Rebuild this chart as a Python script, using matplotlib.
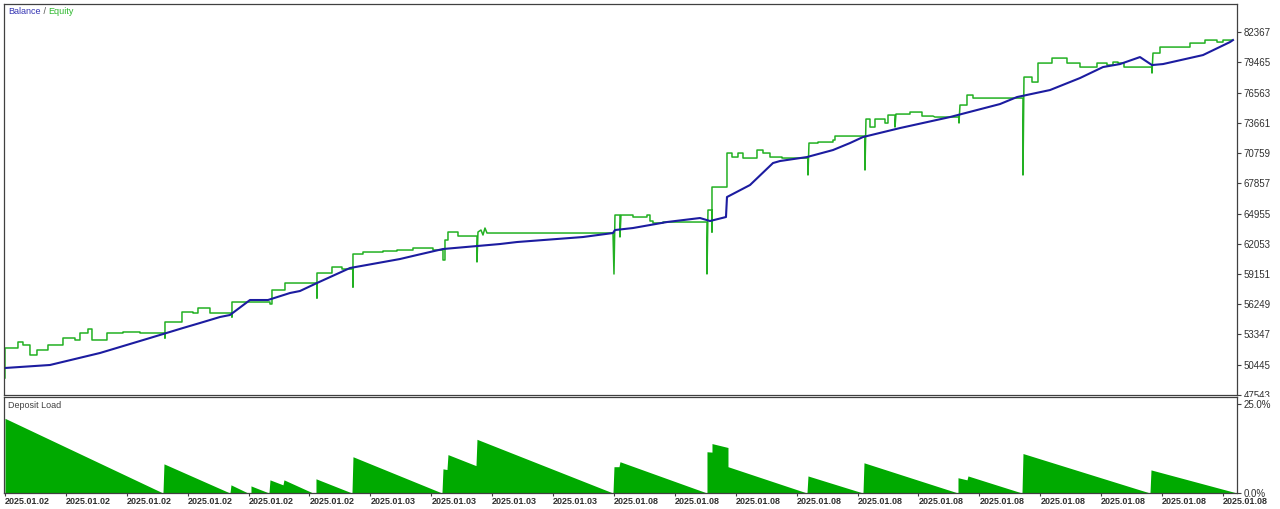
"""
Strategy tester report: balance / equity curve with deposit load panel.
"""

import numpy as np
import matplotlib
matplotlib.use("Agg")
import matplotlib.pyplot as plt
from matplotlib.transforms import Bbox, TransformedBbox

# balance curve (step index, account value)
bal_step = [0, 45, 95, 145, 178, 195, 215, 225, 245, 263, 285, 295, 312, 345, 395,
            412, 438, 495, 512, 578, 608, 610, 628, 662, 695, 705, 721, 722, 745,
            768, 775, 802, 828, 845, 858, 895, 945, 995, 1012, 1045, 1075, 1098,
            1115, 1135, 1147, 1158, 1198, 1225, 1228]
bal_val = [50133, 50421, 51572, 53011, 53970, 54450, 55026, 55217, 56656, 56656,
           57328, 57520, 58287, 59726, 60589, 60973, 61549, 62028, 62220, 62700,
           63084, 63371, 63563, 64139, 64523, 64235, 64619, 66537, 67688, 69799,
           69991, 70374, 71046, 71717, 72293, 73156, 74212, 75459, 76130, 76802,
           77954, 79008, 79296, 79967, 79200, 79296, 80159, 81407, 81598]

# equity curve (floating P/L steps and drawdown spikes)
eq_step = [0, 0, 13, 13, 18, 18, 25, 25, 32, 32, 43, 43, 58, 58, 70, 70, 75, 75, 83,
           83, 87, 87, 102, 102, 118, 118, 135, 135, 160, 160, 160, 177, 177, 188,
           188, 193, 193, 205, 205, 227, 227, 227, 265, 265, 267, 267, 280, 280,
           312, 312, 312, 327, 327, 337, 337, 348, 348, 348, 358, 358, 378, 378,
           392, 392, 408, 408, 428, 428, 438, 438, 440, 440, 443, 443, 453, 453,
           472, 472, 473, 476, 478, 480, 482, 608, 609, 610, 615, 615, 616, 628,
           628, 642, 642, 645, 645, 648, 648, 658, 658, 702, 702, 703, 707, 707,
           707, 722, 722, 727, 727, 733, 733, 738, 738, 752, 752, 758, 758, 765,
           765, 777, 777, 803, 803, 804, 813, 813, 828, 828, 830, 830, 860, 860,
           861, 865, 865, 870, 870, 880, 880, 883, 883, 890, 890, 891, 905, 905,
           917, 917, 928, 930, 954, 954, 955, 962, 962, 968, 968, 1018, 1018, 1019,
           1027, 1027, 1033, 1033, 1047, 1047, 1062, 1062, 1075, 1075, 1092, 1092,
           1102, 1102, 1108, 1108, 1113, 1113, 1119, 1119, 1147, 1147, 1148, 1155,
           1155, 1185, 1185, 1200, 1200, 1212, 1212, 1218, 1218, 1227]
eq_val = [49174, 52052, 52052, 52627, 52627, 52340, 52340, 51380, 51380, 51860,
          51860, 52340, 52340, 53011, 53011, 52819, 52819, 53491, 53491, 53874,
          53874, 52819, 52819, 53491, 53491, 53587, 53587, 53491, 53491, 53011,
          54546, 54546, 55505, 55505, 55409, 55409, 55889, 55889, 55409, 55409,
          55026, 56464, 56464, 56273, 56273, 57616, 57616, 58287, 58287, 56848,
          59246, 59246, 59822, 59822, 59630, 59630, 57903, 61069, 61069, 61261,
          61261, 61357, 61357, 61453, 61453, 61645, 61645, 61453, 61453, 60494,
          60494, 62412, 62412, 63180, 63180, 62796, 62796, 60302, 63180, 63371,
          62892, 63563, 63084, 63084, 59151, 64810, 64810, 62700, 64810, 64810,
          64619, 64619, 64810, 64810, 64235, 64235, 64043, 64043, 64139, 64139,
          59151, 65290, 65290, 63180, 67496, 67496, 70758, 70758, 70374, 70374,
          70758, 70758, 70278, 70278, 71046, 71046, 70758, 70758, 70374, 70374,
          70278, 70278, 68648, 71717, 71717, 71813, 71813, 72005, 72005, 72389,
          72389, 69127, 74020, 74020, 73252, 73252, 74020, 74020, 73636, 73636,
          74403, 74403, 73252, 74499, 74499, 74691, 74691, 74307, 74307, 74212,
          74212, 73636, 75363, 75363, 76322, 76322, 76034, 76034, 68648, 78049,
          78049, 77569, 77569, 79392, 79392, 79871, 79871, 79392, 79392, 79008,
          79008, 79392, 79392, 79200, 79200, 79488, 79488, 79392, 79392, 79008,
          79008, 78432, 80351, 80351, 80927, 80927, 81310, 81310, 81598, 81598,
          81407, 81407, 81598, 81598]

# deposit load, percent
dep_step = [0, 158, 159, 225, 226, 243, 246, 246, 264, 265, 278, 279, 308, 311, 311,
            347, 348, 437, 438, 442, 443, 471, 472, 608, 609, 614, 615, 702, 702,
            707, 707, 723, 723, 802, 803, 858, 859, 953, 953, 962, 963, 1017, 1018,
            1145, 1146, 1232]
dep_pct = [21.0, 0.0, 8.2, 0.0, 2.3, 0.0, 0.0, 2.0, 0.0, 3.7, 2.3, 3.7, 0.0, 0.0,
           4.0, 0.0, 10.2, 0.0, 6.8, 6.6, 10.8, 7.7, 15.1, 0.0, 7.4, 7.4, 8.8, 0.0,
           11.6, 11.5, 13.9, 12.8, 7.4, 0.0, 4.8, 0.0, 8.5, 0.0, 4.3, 3.7, 4.8, 0.0,
           11.1, 0.0, 6.5, 0.0]

y_ticks = [47543 + 2902 * k for k in range(13)]
date_labels = ["2025.01.02"] * 6 + ["2025.01.03"] * 4 + ["2025.01.08"] * 11

FONT = "Liberation Sans"
FRAME = "#404040"
TXT = "#303030"

fig = plt.figure(figsize=(12.8, 5.09), dpi=100)
ax = fig.add_axes([0.0031, 0.224, 0.9633, 0.768])
ax2 = fig.add_axes([0.0031, 0.0314, 0.9633, 0.1886])

ax.plot(eq_step, eq_val, color="#22b022", lw=1.1)
ax.plot(bal_step, bal_val, color="#1c1ca0", lw=1.5)
ax.set_xlim(-1, 1232)
ax.set_ylim(47543, 85052)
ax.set_xticks([])
ax.yaxis.tick_right()
ax.set_yticks(y_ticks)
ax.set_yticklabels([str(v) for v in y_ticks], fontfamily=FONT, fontsize=7, color=TXT)
ax.tick_params(axis="y", direction="out", length=3, pad=2, color=FRAME)

ax2.fill_between(dep_step, dep_pct, color="#00aa00", lw=0)
ax2.set_xlim(-1, 1232)
ax2.set_ylim(0, 26.99)
ax2.yaxis.tick_right()
ax2.set_yticks([0, 25])
ax2.set_yticklabels(["0.0%", "25.0%"], fontfamily=FONT, fontsize=7, color=TXT)
ax2.tick_params(axis="y", direction="out", length=3, pad=2, color=FRAME)
ax2.set_xticks(np.arange(len(date_labels)) * 60.9)
ax2.set_xticklabels(date_labels, fontfamily=FONT, fontsize=6.5, color=TXT,
                    fontweight="bold")
for lbl in ax2.get_xticklabels():
    lbl.set_ha("left")
ax2.tick_params(axis="x", direction="out", length=2, pad=1, color=FRAME)

for a in (ax, ax2):
    for s in a.spines.values():
        s.set_color(FRAME)
        s.set_linewidth(0.9)

# bottom balance label is cut by the lower panel, as in the terminal
lo = ax.get_yticklabels()[0]
lo.set_clip_box(TransformedBbox(Bbox([[0.9, 0.2205], [1.0, 1.0]]), fig.transFigure))
lo.set_clip_on(True)

t1 = ax.text(0.0035, 0.993, "Balance", transform=ax.transAxes, va="top",
             fontfamily=FONT, fontsize=6.5, color="#3636b4")
t2 = ax.annotate(" / ", xy=(1, 0), xycoords=t1, va="bottom",
                 fontfamily=FONT, fontsize=6.5, color="#505050")
ax.annotate("Equity", xy=(1, 0), xycoords=t2, va="bottom",
            fontfamily=FONT, fontsize=6.5, color="#2eb82e")
ax2.text(0.0035, 0.96, "Deposit Load", transform=ax2.transAxes, va="top",
         fontfamily=FONT, fontsize=6.5, color="#404040")

fig.savefig("out.png", dpi=100)
